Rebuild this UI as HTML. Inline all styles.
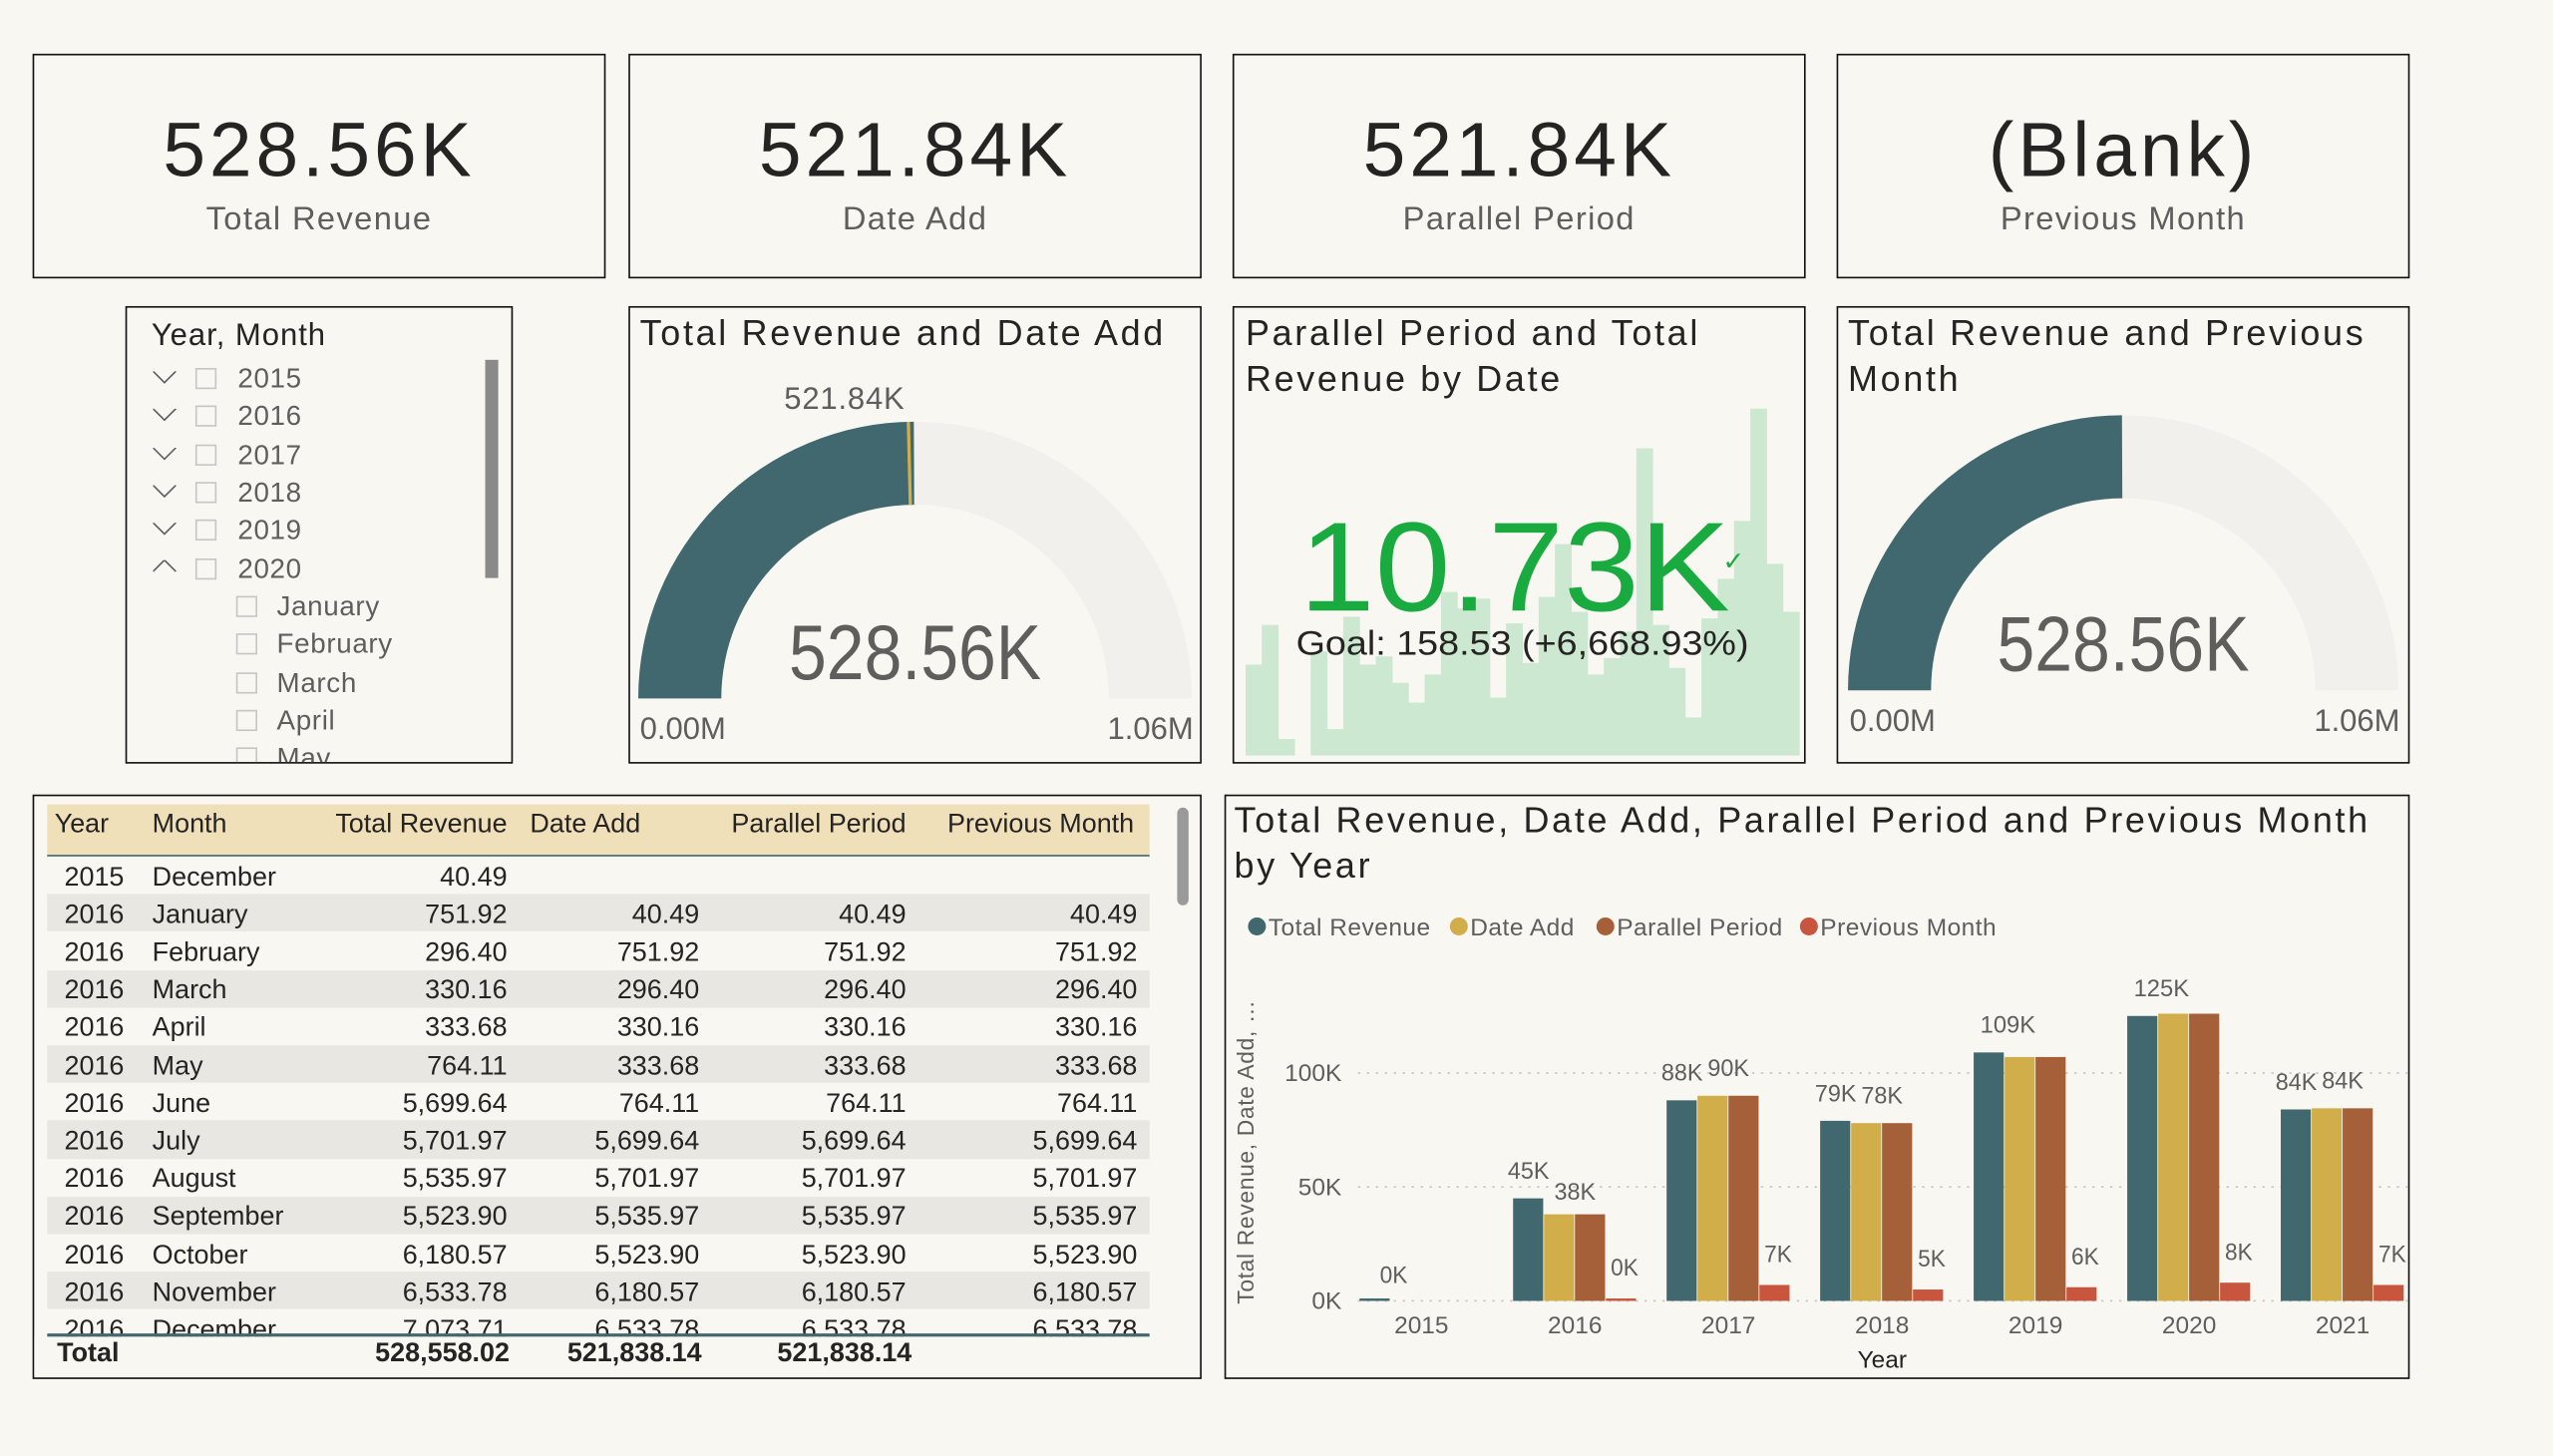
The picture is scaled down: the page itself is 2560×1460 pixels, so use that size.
<!DOCTYPE html>
<html><head><meta charset="utf-8">
<style>
html,body{margin:0;padding:0;background:#f8f7f2;width:2560px;height:1460px;overflow:hidden}
#root{position:absolute;left:0;top:0;width:1568px;height:894px;transform:scale(1.63265);transform-origin:0 0;font-family:"Liberation Sans",sans-serif;color:#252423}
.box{position:absolute;border:1.5px solid #111;box-sizing:border-box;background:#f8f7f2}
.abs{position:absolute;white-space:nowrap}
.kv{position:absolute;left:0;right:0;text-align:center;font-size:47px;top:30px;color:#252423;letter-spacing:2.4px}
.kl{position:absolute;left:0;right:0;text-align:center;font-size:20px;top:90px;color:#605e5c;letter-spacing:0.85px}
.title{position:absolute;left:6px;top:2px;font-size:22px;line-height:28px;color:#252423;letter-spacing:1.65px}
.sl{position:absolute;font-size:17px;color:#605e5c;letter-spacing:0.4px}
.cb{position:absolute;width:13px;height:13px;border:1px solid #c8c6c4;box-sizing:border-box}
.tc{position:absolute;font-size:16.5px;white-space:nowrap;color:#252423}
</style></head><body>
<div id="root">

<div class="box" style="left:20px;top:33px;width:352px;height:138px">
 <div class="kv">528.56K</div>
 <div class="kl">Total Revenue</div></div>
<div class="box" style="left:386px;top:33px;width:352px;height:138px">
 <div class="kv">521.84K</div>
 <div class="kl">Date Add</div></div>
<div class="box" style="left:757px;top:33px;width:352px;height:138px">
 <div class="kv">521.84K</div>
 <div class="kl">Parallel Period</div></div>
<div class="box" style="left:1128px;top:33px;width:352px;height:138px">
 <div class="kv">(Blank)</div>
 <div class="kl">Previous Month</div></div>

<!-- slicer -->
<div class="box" style="left:77px;top:188px;width:238px;height:281px;overflow:hidden">
 <div class="abs" style="left:15px;top:7px;font-size:19px;letter-spacing:0.6px">Year, Month</div>
 <div id="slItems"></div>
 <div class="abs" style="left:220px;top:32px;width:8px;height:134px;background:#8a8a8a"></div>
</div>

<!-- gauge 1 -->
<div class="box" style="left:386px;top:188px;width:352px;height:281px">
 <div class="title">Total Revenue and Date Add</div>
 <svg width="352" height="281" style="position:absolute;left:-1.5px;top:-1.5px" id="g1"></svg>
</div>

<!-- kpi -->
<div class="box" style="left:757px;top:188px;width:352px;height:281px;overflow:hidden">
 <svg width="352" height="281" style="position:absolute;left:-1.5px;top:-1.5px" id="kpi"></svg>
 <div class="title" style="left:7px">Parallel Period and Total<br>Revenue by Date</div>
 <div class="abs" style="left:40px;top:114px;font-size:78px;color:#1aab40;transform:scaleX(1.07);transform-origin:0 0">10.73K</div>
 <div class="abs" style="left:300px;top:146px;font-size:16px;color:#1aab40">✓</div>
 <div class="abs" style="left:38px;top:195px;font-size:21px;color:#252423;transform:scaleX(1.1);transform-origin:0 0">Goal: 158.53 (+6,668.93%)</div>
</div>

<!-- gauge 2 -->
<div class="box" style="left:1128px;top:188px;width:352px;height:281px">
 <div class="title">Total Revenue and Previous<br>Month</div>
 <svg width="352" height="281" style="position:absolute;left:-1.5px;top:-1.5px" id="g2"></svg>
</div>

<!-- table -->
<div class="box" style="left:20px;top:488px;width:718px;height:359px;overflow:hidden">
 <div class="abs" style="left:8px;top:5px;width:677px;height:31px;background:#efe0b9;border-bottom:2px solid #41686f"></div>
 <div id="tbl"></div>
 <div class="abs" style="left:8px;top:330px;width:677px;height:2px;background:#41686f"></div>
 <div class="abs" style="left:0;top:332px;width:690px;height:24px;background:#f8f7f2;font-weight:bold;font-size:16.5px">
  <span class="abs" style="left:14px;top:1px">Total</span>
  <span class="abs" style="right:398px;top:1px">528,558.02</span>
  <span class="abs" style="right:280px;top:1px">521,838.14</span>
  <span class="abs" style="right:151px;top:1px">521,838.14</span>
 </div>
 <div class="abs" style="left:702px;top:7px;width:7px;height:60px;border-radius:4px;background:#9a9a9a"></div>
</div>

<!-- bar chart -->
<div class="box" style="left:752px;top:488px;width:728px;height:359px">
 <div class="title" style="left:5px;top:1px">Total Revenue, Date Add, Parallel Period and Previous Month<br>by Year</div>
 <svg width="728" height="359" style="position:absolute;left:-1.5px;top:-1.5px" id="bars"></svg>
</div>
</div>

<script>
// ---------- bar chart data ----------
const years = ['2015','2016','2017','2018','2019','2020','2021'];
const seriesNames = ['Total Revenue','Date Add','Parallel Period','Previous Month'];
const totalRevenue = [0.04, 45, 88, 79, 109, 125, 84];
const dateAdd = [0, 38, 90, 78, 107, 126, 84.5];
const parallelPeriod = [0, 38, 90, 78, 107, 126, 84.5];
const previousMonth = [0, 0.75, 7, 5, 6, 8, 7];
const labelsTR = ['0K','45K','88K','79K','109K','125K','84K'];
const labelsDA = ['','38K','90K','78K','','','84K'];
const labelsPM = ['','0K','7K','5K','6K','8K','7K'];
const yTicks = [0, 50, 100];
const yTickLabels = ['0K','50K','100K'];
// ---------- sparkline data ----------
const sparkValues = [275,395,50,0,315,80,420,275,300,220,160,245,495,445,475,175,400,280,480,640,435,245,295,375,930,395,265,115,415,535,710,1050,580,435];
// ---------- gauges ----------
const gauge1 = {value:528.56, target:521.84, max:1060};
const gauge2 = {value:528.56, max:1060};
// ---------- table ----------
const tYears = ['2015','2016','2016','2016','2016','2016','2016','2016','2016','2016','2016','2016','2016'];
const tMonths = ['December','January','February','March','April','May','June','July','August','September','October','November','December'];
const tTR = ['40.49','751.92','296.40','330.16','333.68','764.11','5,699.64','5,701.97','5,535.97','5,523.90','6,180.57','6,533.78','7,073.71'];
const tDA = ['','40.49','751.92','296.40','330.16','333.68','764.11','5,699.64','5,701.97','5,535.97','5,523.90','6,180.57','6,533.78'];
const tPP = tDA.slice();
const tPM = tDA.slice();
const slYears = ['2015','2016','2017','2018','2019','2020'];
const slMonths = ['January','February','March','April','May'];

const NS='http://www.w3.org/2000/svg';
function mk(parent,tag,attrs,text){const e=document.createElementNS(NS,tag);for(const k in attrs)e.setAttribute(k,attrs[k]);if(text!==undefined)e.textContent=text;parent.appendChild(e);return e;}

// slicer
const sl=document.getElementById('slItems');
slYears.forEach((y,i)=>{
  const top=33+i*23.3;
  const row=document.createElement('div');
  
  
  row.className='abs';row.style.left='0';row.style.top=top+'px';row.style.width='210px';row.style.height='22px';
  const open=(y==='2020');
  const pts=open?'0,7 7,0 14,7':'0,0 7,7 14,0';
  row.innerHTML='<svg class="abs" style="left:16px;top:'+(open?5:6)+'px" width="15" height="9"><polyline points="'+pts+'" fill="none" stroke="#605e5c" stroke-width="1"/></svg><span class="cb" style="left:42px;top:4px"></span><span class="sl" style="left:68px;top:1px">'+y+'</span>';
  sl.appendChild(row);
});
slMonths.forEach((m,i)=>{
  const top=173+i*23.3;
  const row=document.createElement('div');
  
  
  row.className='abs';row.style.left='0';row.style.top=top+'px';row.style.width='210px';row.style.height='22px';
  row.innerHTML='<span class="cb" style="left:67px;top:4px"></span><span class="sl" style="left:92px;top:1px">'+m+'</span>';
  sl.appendChild(row);
});

// gauges
function arcPath(cx,cy,r0,r1,f0,f1){
  const a0=Math.PI*(1-f0),a1=Math.PI*(1-f1);
  const p=(r,a)=>[cx+r*Math.cos(a),cy-r*Math.sin(a)];
  const [x0,y0]=p(r1,a0),[x1,y1]=p(r1,a1),[x2,y2]=p(r0,a1),[x3,y3]=p(r0,a0);
  return `M${x0},${y0} A${r1},${r1} 0 0 1 ${x1},${y1} L${x2},${y2} A${r0},${r0} 0 0 0 ${x3},${y3} Z`;
}
function gauge(id,cx,cy,r1,r0,g,vy,labelY){
  const s=document.getElementById(id);
  const bg=mk(s,'path',{d:arcPath(cx,cy,r0,r1,0,1),fill:'#f1f0ec'});
  
  const f=mk(s,'path',{d:arcPath(cx,cy,r0,r1,0,g.value/g.max),fill:'#41686f'});
  
  if(g.target!==undefined){
    const t=g.target/g.max,a=Math.PI*(1-t);
    const ln=mk(s,'line',{x1:cx+r0*Math.cos(a),y1:cy-r0*Math.sin(a),x2:cx+r1*Math.cos(a),y2:cy-r1*Math.sin(a),stroke:'#d2ae4b','stroke-width':2});
    
    const tl=mk(s,'text',{x:cx+r1*Math.cos(a)-2,y:cy-r1*Math.sin(a)-8,'text-anchor':'end','font-size':19,fill:'#605e5c','letter-spacing':0.5},g.target.toFixed(2)+'K');
    
  }
  const v=mk(s,'text',{x:cx,y:vy,'text-anchor':'middle','font-size':48,fill:'#605e5c',textLength:155,lengthAdjust:'spacingAndGlyphs'},g.value.toFixed(2)+'K');
  
  const mn=mk(s,'text',{x:cx-r1+1,y:labelY,'font-size':19,fill:'#605e5c'},'0.00M');
  
  const mx=mk(s,'text',{x:cx+r1+1,y:labelY,'text-anchor':'end','font-size':19,fill:'#605e5c'},(g.max/1000).toFixed(2)+'M');
  
}
gauge('g1',176,241,170,119,gauge1,229,266);
gauge('g2',176,236,169,118,gauge2,224,261);

// sparkline
(function(){
  const s=document.getElementById('kpi');
  const x0=8,x1=348,base=276,hMax=213;
  const mx=Math.max(...sparkValues),w=(x1-x0)/sparkValues.length;
  sparkValues.forEach((v,i)=>{
    const h=v/mx*hMax;
    const r=mk(s,'rect',{x:x0+i*w,y:base-h,width:w+0.3,height:h,fill:'#cde8d0'});
    
  });
})();

// table
(function(){
  const t=document.getElementById('tbl');
  const hdr=[['Year',12.5,'l'],['Month',72.5,'l'],['Total Revenue',290.5,'r'],['Date Add',304.5,'l'],['Parallel Period',535.5,'r'],['Previous Month',675.5,'r']];
  hdr.forEach(h=>{
    const e=document.createElement('div');
    
    
    e.className='tc';e.style.top='8px';e.style.lineHeight='19px';
    if(h[2]==='l')e.style.left=h[1]+'px';else e.style.right=(716-h[1])+'px';
    e.textContent=h[0];t.appendChild(e);
  });
  tYears.forEach((y,i)=>{
    const top=37+i*23.2;
    const row=document.createElement('div');
    
    
    row.className='abs';row.style.left='8px';row.style.top=top+'px';row.style.width='677px';row.style.height='23.2px';
    row.style.background=(i%2===1)?'#e8e7e2':'#f8f7f2';
    const cells=[[y,10.5,'l'],[tMonths[i],64.5,'l'],[tTR[i],282.5,'r'],[tDA[i],400.5,'r'],[tPP[i],527.5,'r'],[tPM[i],669.5,'r']];
    let html='';
    cells.forEach(c=>{html+='<span class="tc" style="top:3.5px;'+(c[2]==='l'?'left:'+c[1]+'px':'right:'+(677-c[1])+'px')+'">'+c[0]+'</span>';});
    row.innerHTML=html;
    t.appendChild(row);
  });
})();

// bar chart
(function(){
  const s=document.getElementById('bars');
  const right=727,base=311,pxPerK=1.4;
  const y=v=>base-v*pxPerK;
  const step=94.3;
  const xc=i=>121+step*i;
  const colors=['#41686f','#d2ae4b','#a5603a','#c8553d'];
  const series=[totalRevenue,dateAdd,parallelPeriod,previousMonth];
  const legOff=[0,124,214,339];
  seriesNames.forEach((n,k)=>{
    const lx=14+legOff[k];
    const c=mk(s,'circle',{cx:lx+6,cy:81,r:5.5,fill:colors[k]});
    
    const t=mk(s,'text',{x:lx+13,y:86.5,'font-size':15,fill:'#605e5c','letter-spacing':0.3},n);
    
  });
  yTicks.forEach((v,i)=>{
    const g=mk(s,'line',{x1:82,x2:right,y1:y(v),y2:y(v),stroke:'#c8c6c4','stroke-dasharray':'1.5 4','stroke-width':1});
    
    const t=mk(s,'text',{x:72,y:y(v)+5,'text-anchor':'end','font-size':15,fill:'#605e5c'},yTickLabels[i]);
    
  });
  const yt=mk(s,'text',{transform:'translate(18,'+(base+2)+') rotate(-90)','font-size':14,fill:'#605e5c','letter-spacing':0.4},'Total Revenue, Date Add, …');
  
  const bw=19;
  years.forEach((yr,i)=>{
    const gx=xc(i)-2*bw;
    series.forEach((ser,k)=>{
      const v=ser[i];
      const h=Math.max(v*pxPerK, v>0?1.5:0);
      const r=mk(s,'rect',{x:gx+k*bw,y:base-h,width:bw-0.5,height:h,fill:colors[k]});
      
    });
    const lab=(txt,x,yy)=>{const t=mk(s,'text',{x:x,y:yy,'text-anchor':'middle','font-size':15,fill:'#605e5c',textLength:txt.length*8.5,lengthAdjust:'spacingAndGlyphs'},txt);};
    if(labelsTR[i]){
      const h=totalRevenue[i]*pxPerK;
      lab(labelsTR[i], gx+bw/2+ (labelsDA[i]?0:bw/2+2), i===0?base-11:base-h-12);
    }
    if(labelsDA[i]) lab(labelsDA[i], gx+2*bw, base-dateAdd[i]*pxPerK-(i===1?9:12));
    if(labelsPM[i]) lab(labelsPM[i], gx+3.5*bw+2, base-Math.max(previousMonth[i]*pxPerK,1.5)-14);
    const xl=mk(s,'text',{x:xc(i),y:base+20,'text-anchor':'middle','font-size':15,fill:'#605e5c'},yr);
    
  });
  const xt=mk(s,'text',{x:404,y:base+41,'text-anchor':'middle','font-size':15,fill:'#252423'},'Year');
  
})();
</script>
</body></html>
